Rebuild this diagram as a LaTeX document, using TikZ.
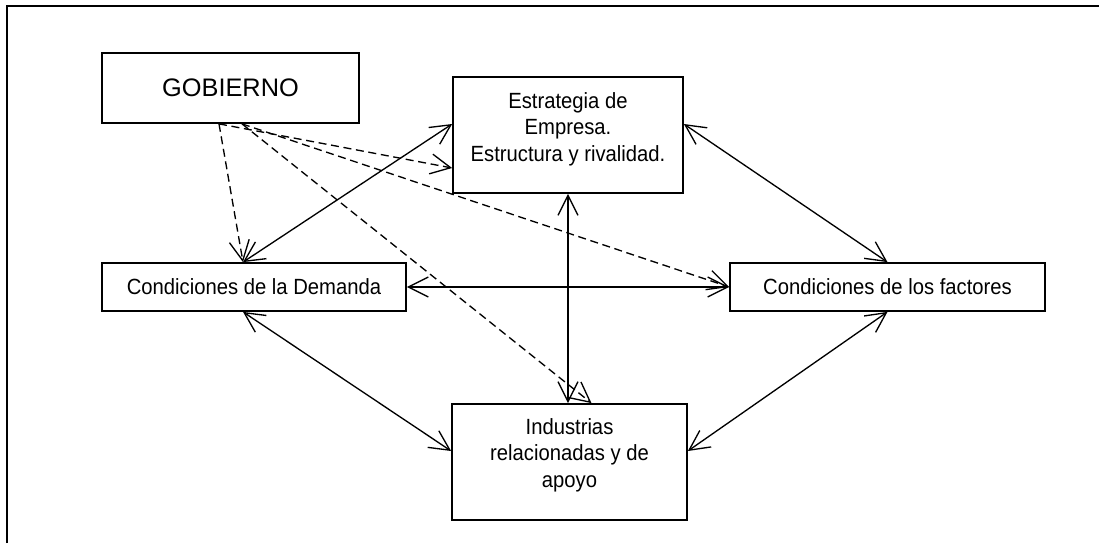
\documentclass[tikz,border=0pt]{standalone}
\usepackage{fontspec}
\setmainfont{Liberation Sans}
\newfontfamily\narrowfont{Liberation Sans}[FakeStretch=0.92]
\usepackage{tikz}
\usetikzlibrary{calc}
\usetikzlibrary{arrows.meta}
\tikzset{box/.style={draw, line width=1.3pt, inner sep=0, align=center, font=\narrowfont\fontsize{16.5}{20}\selectfont}}
\tikzset{link/.style={line width=1pt, >={Straight Barb[length=15pt,width=15pt]}}}
\tikzset{govlink/.style={link, ->, dash pattern=on 6pt off 3.5pt}}

\begin{document}
\begin{tikzpicture}[x=.75pt,y=-.75pt]
    \useasboundingbox (0,0) rectangle (1099,543);
    \draw[line width=1.5pt] (7,543)--(7,6)--(1099,6);
    \node[box, minimum width=192.75pt, minimum height=52.5pt, font=\fontsize{19}{22}\selectfont] (gobierno) at (230.5,88) {GOBIERNO};
    \node[box, minimum width=172.5pt, minimum height=87pt] (estrategia) at (568,135) {};
    \node[box, draw=none] (estrategia text) at (568,129) {Estrategia de\\Empresa.\\Estructura y rivalidad.};
    \node[box, minimum width=228pt, minimum height=36pt] (demanda) at (254,287) {Condiciones de la Demanda};
    \node[box, minimum width=236.25pt, minimum height=36pt] (factores) at (887.5,287) {Condiciones de los factores};
    \node[box, minimum width=176.25pt, minimum height=87pt] (industrias) at (569.5,462) {};
    \node[box, draw=none] (industrias text) at (569.5,455) {Industrias\\relacionadas y de\\apoyo};
    \draw[link,<->] ($(estrategia.west)+(0,-11)$)--($(demanda.north)+(-11,0)$);
    \draw[link,<->] ($(estrategia.east)+(0,-11)$)--(factores.north);
    \draw[link,<->] (demanda.east)--(factores.west);
    \draw[link,<->] (estrategia.south)--(estrategia.south |- industrias.north);
    \draw[link,<->] ($(demanda.south)+(-11,0)$)--($(industrias.west)+(0,-11)$);
    \draw[link,<->] (factores.south)--($(industrias.east)+(0,-11)$);
    \draw[govlink] ($(gobierno.south)+(-11.5,0)$)--($(demanda.north)+(-11,0)$);
    \draw[govlink] ($(gobierno.south)+(-11.5,0)$)--($(estrategia.west)+(0,33)$);
    \draw[govlink] ($(gobierno.south)+(11.5,0)$)--(factores.west);
    \draw[govlink] ($(gobierno.south)+(11.5,0)$)--($(industrias.north)+(22,0)$);
\end{tikzpicture}
\end{document}
